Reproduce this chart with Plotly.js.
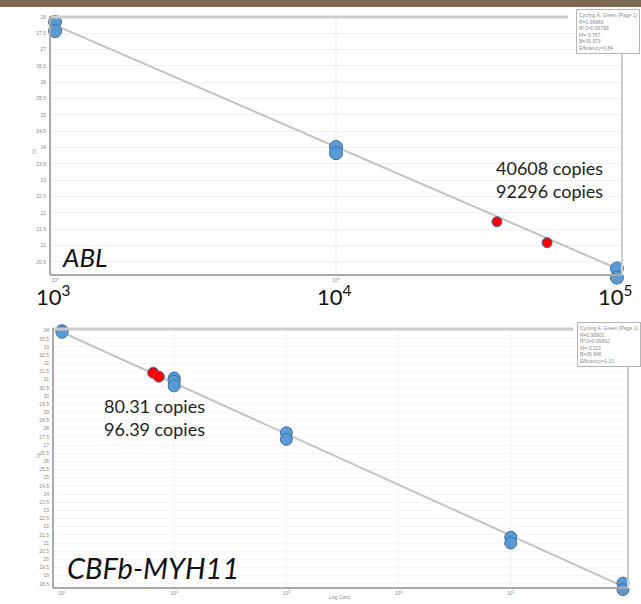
<!DOCTYPE html>
<html>
<head>
<meta charset="utf-8">
<script src="https://cdn.plot.ly/plotly-3.0.1.min.js"></script>
<style>html,body{margin:0;padding:0;background:#fff;}#chart{width:641px;height:604px;}</style>
</head>
<body>
<div id="chart"></div>
<script>
// ---------- data: ABL standard curve ----------
const ablStdCopies = [1000, 1000, 10000, 10000, 100000, 100000];
const ablStdCt     = [27.85, 27.57, 24.02, 23.83, 20.30, 20.02];
const ablUnkCopies = [37400, 56400];
const ablUnkCt     = [21.73, 21.09];
const ablFitCopies = [1000, 100000];
const ablFitCt     = [27.75, 20.30];
const ablLabels    = ["40608 copies", "92296 copies"];
const ablStats     = ["Cycling A. Green (Page 1)", "R=0.99966", "R^2=0.99793", "M=-3.767", "B=39.373", "Efficiency=0.84"];
const ablYTicks    = [20.5, 21, 21.5, 22, 22.5, 23, 23.5, 24, 24.5, 25, 25.5, 26, 26.5, 27, 27.5, 28];
const ablXTicks    = [1000, 10000, 100000];
const ablXTickText = ["10<sup>3</sup>", "10<sup>4</sup>", "10<sup>5</sup>"];

// ---------- data: CBFb-MYH11 standard curve ----------
const cbfStdCopies = [10, 10, 100, 100, 100, 1000, 1000, 100000, 100000, 1000000, 1000000];
const cbfStdCt     = [34.00, 33.90, 31.10, 30.90, 30.62, 27.75, 27.35, 21.36, 21.00, 18.55, 18.15];
const cbfUnkCopies = [65, 73];
const cbfUnkCt     = [31.42, 31.18];
const cbfFitCopies = [10, 1000000];
const cbfFitCt     = [33.90, 18.35];
const cbfLabels    = ["80.31 copies", "96.39 copies"];
const cbfStats     = ["Cycling A. Green (Page 1)", "R=0.99901", "R^2=0.99802", "M=-3.113", "B=36.946", "Efficiency=1.10"];
const cbfYTicks    = [18.5, 19, 19.5, 20, 20.5, 21, 21.5, 22, 22.5, 23, 23.5, 24, 24.5, 25, 25.5, 26,
                      26.5, 27, 27.5, 28, 28.5, 29, 29.5, 30, 30.5, 31, 31.5, 32, 32.5, 33, 33.5, 34];
const cbfXTicks    = [10, 100, 1000, 10000, 100000, 1000000];
const cbfXTickText = ["10<sup>1</sup>", "10<sup>2</sup>", "10<sup>3</sup>", "10<sup>4</sup>", "10<sup>5</sup>", "10<sup>6</sup>"];

// ---------- layout helpers (pixels -> paper) ----------
const W = 641, H = 604;
const px = x => x / W;
const py = y => 1 - y / H;

const blue = '#5b9bd5', blueEdge = '#3f6f9f', red = '#ff0000', fitCol = '#c4c4c4';
const tinyFont = {family: 'Liberation Sans, Arial, sans-serif', size: 5, color: '#8a8a8a'};
const txtFont = {family: 'Lato, "Open Sans", sans-serif', size: 18, color: '#1e1e1e'};

const traces = [
  {x: ablFitCopies, y: ablFitCt, xaxis: 'x', yaxis: 'y', mode: 'lines',
   line: {color: fitCol, width: 2}, hoverinfo: 'skip'},
  {x: ablStdCopies, y: ablStdCt, xaxis: 'x', yaxis: 'y', mode: 'markers', cliponaxis: false,
   marker: {size: 13, color: blue, line: {color: blueEdge, width: 1}}},
  {x: ablUnkCopies, y: ablUnkCt, xaxis: 'x', yaxis: 'y', mode: 'markers', cliponaxis: false,
   marker: {size: 10, color: red, line: {color: blueEdge, width: 1}}},
  {x: cbfFitCopies, y: cbfFitCt, xaxis: 'x2', yaxis: 'y2', mode: 'lines',
   line: {color: fitCol, width: 2}, hoverinfo: 'skip'},
  {x: cbfStdCopies, y: cbfStdCt, xaxis: 'x2', yaxis: 'y2', mode: 'markers', cliponaxis: false,
   marker: {size: 12, color: blue, line: {color: blueEdge, width: 1}}},
  {x: cbfUnkCopies, y: cbfUnkCt, xaxis: 'x2', yaxis: 'y2', mode: 'markers', cliponaxis: false,
   marker: {size: 11, color: red, line: {color: blueEdge, width: 1}}}
];

const axisCommon = {
  showline: true, linecolor: '#a9a9a9', linewidth: 2,
  showgrid: true, gridcolor: '#f0f0f0', gridwidth: 1,
  zeroline: false, ticks: '', tickfont: tinyFont, fixedrange: true
};

// top panel: y from 19.9 to 28.0 (px 17); x axis line drawn at px 275 (=20.1)
const topPxPerUnit = (275 - 17) / (28.0 - 20.1);
const topBottomPx = 17 + (28.0 - 19.9) * topPxPerUnit;
// bottom panel: y from 17.95 to 34.1 (px 329); x axis line at px 588 (=18.25)
const botPxPerUnit = (588 - 329) / (34.1 - 18.25);
const botBottomPx = 329 + (34.1 - 17.95) * botPxPerUnit;

const annotations = [];
// big x tick labels on top panel
ablXTicks.forEach((v, i) => annotations.push({
  x: Math.log10(v), y: py(295), xref: 'x', yref: 'paper', text: ablXTickText[i],
  showarrow: false, font: {family: 'Lato, "Open Sans", sans-serif', size: 22, color: '#111'},
  xanchor: 'center', yanchor: 'middle', xshift: -2
}));
// copies labels
annotations.push({x: px(494), y: py(179), xref: 'paper', yref: 'paper', text: ablLabels.join('<br>'),
  showarrow: false, font: txtFont, align: 'left', xanchor: 'left', yanchor: 'middle'});
annotations.push({x: px(102), y: py(417), xref: 'paper', yref: 'paper', text: cbfLabels.join('<br>'),
  showarrow: false, font: txtFont, align: 'left', xanchor: 'left', yanchor: 'middle'});
// gene names
annotations.push({x: px(60), y: py(257), xref: 'paper', yref: 'paper', text: 'ABL',
  showarrow: false, font: {family: 'Lato, "Open Sans", sans-serif', size: 26, color: '#111', style: 'italic'},
  xanchor: 'left', yanchor: 'middle'});
annotations.push({x: px(65), y: py(567), xref: 'paper', yref: 'paper', text: 'CBFb-MYH11',
  showarrow: false, font: {family: 'Lato, "Open Sans", sans-serif', size: 29, color: '#111', style: 'italic'},
  xanchor: 'left', yanchor: 'middle'});
// stats boxes
annotations.push({x: px(640), y: py(9), xref: 'paper', yref: 'paper', text: ablStats.join('<br>'),
  showarrow: false, font: tinyFont, align: 'left', xanchor: 'right', yanchor: 'top',
  bgcolor: '#ffffff', bordercolor: '#b5b5b5', borderwidth: 1, borderpad: 2});
annotations.push({x: px(641), y: py(322), xref: 'paper', yref: 'paper', text: cbfStats.join('<br>'),
  showarrow: false, font: tinyFont, align: 'left', xanchor: 'right', yanchor: 'top',
  bgcolor: '#ffffff', bordercolor: '#b5b5b5', borderwidth: 1, borderpad: 2});
// axis titles
annotations.push({x: px(29), y: py(146), xref: 'paper', yref: 'paper', text: 'Ct', textangle: -90,
  showarrow: false, font: tinyFont});
annotations.push({x: px(33), y: py(460), xref: 'paper', yref: 'paper', text: 'Ct', textangle: -90,
  showarrow: false, font: tinyFont});
annotations.push({x: px(340), y: py(602), xref: 'paper', yref: 'paper', text: 'Log Conc',
  showarrow: false, font: tinyFont});

const shapes = [
  // brown header bar
  {type: 'rect', xref: 'paper', yref: 'paper', x0: 0, x1: 1, y0: py(7), y1: 1,
   fillcolor: '#7a6850', line: {width: 0}},
  // top panel frame (top & right)
  {type: 'line', xref: 'paper', yref: 'paper', x0: px(50), x1: px(568), y0: py(17), y1: py(17),
   line: {color: '#cdcdcd', width: 3}},
  {type: 'line', xref: 'paper', yref: 'paper', x0: px(622), x1: px(622), y0: py(53), y1: py(275),
   line: {color: '#cdcdcd', width: 2}},
  // bottom panel frame (top & right)
  {type: 'line', xref: 'paper', yref: 'paper', x0: px(53), x1: px(573), y0: py(329), y1: py(329),
   line: {color: '#cdcdcd', width: 3}},
  {type: 'line', xref: 'paper', yref: 'paper', x0: px(628), x1: px(628), y0: py(367), y1: py(588),
   line: {color: '#cdcdcd', width: 2}},
  // left axis lines, spanning only the visible plot frames
  {type: 'line', xref: 'paper', yref: 'paper', x0: px(50), x1: px(50), y0: py(275), y1: py(16),
   line: {color: '#a9a9a9', width: 2}},
  {type: 'line', xref: 'paper', yref: 'paper', x0: px(53), x1: px(53), y0: py(588), y1: py(328),
   line: {color: '#a9a9a9', width: 2}}
];
// faint vertical gridlines at the inner decades
ablXTicks.slice(1, 2).forEach(v => shapes.push({type: 'line', xref: 'x', yref: 'paper', x0: v, x1: v,
  y0: py(275), y1: py(17), line: {color: '#ececec', width: 1}, layer: 'below'}));
cbfXTicks.slice(1, 5).forEach(v => shapes.push({type: 'line', xref: 'x2', yref: 'paper', x0: v, x1: v,
  y0: py(588), y1: py(329), line: {color: '#f3f3f3', width: 1}, layer: 'below'}));

const layout = {
  width: W, height: H, margin: {l: 0, r: 0, t: 0, b: 0},
  paper_bgcolor: '#ffffff', plot_bgcolor: 'rgba(0,0,0,0)', showlegend: false,
  xaxis: Object.assign({}, axisCommon, {type: 'log', range: [2.982, 5.018], domain: [px(50), px(622)],
    anchor: 'free', position: py(275), tickvals: ablXTicks, ticktext: ablXTickText, showgrid: false}),
  yaxis: Object.assign({}, axisCommon, {range: [19.9, 28.0], domain: [py(topBottomPx), py(17)],
    anchor: 'x', tickvals: ablYTicks, ticklabelstandoff: 3, showline: false}),
  xaxis2: Object.assign({}, axisCommon, {type: 'log', range: [0.92, 6.045], domain: [px(53), px(628)],
    anchor: 'free', position: py(588), tickvals: cbfXTicks, ticktext: cbfXTickText, showgrid: false}),
  yaxis2: Object.assign({}, axisCommon, {range: [17.95, 34.1], domain: [py(botBottomPx), py(329)],
    anchor: 'x2', tickvals: cbfYTicks, gridcolor: '#f6f6f6', ticklabelstandoff: 3, showline: false}),
  annotations: annotations,
  shapes: shapes
};

Plotly.newPlot('chart', traces, layout, {staticPlot: true, displayModeBar: false});
</script>
</body>
</html>
